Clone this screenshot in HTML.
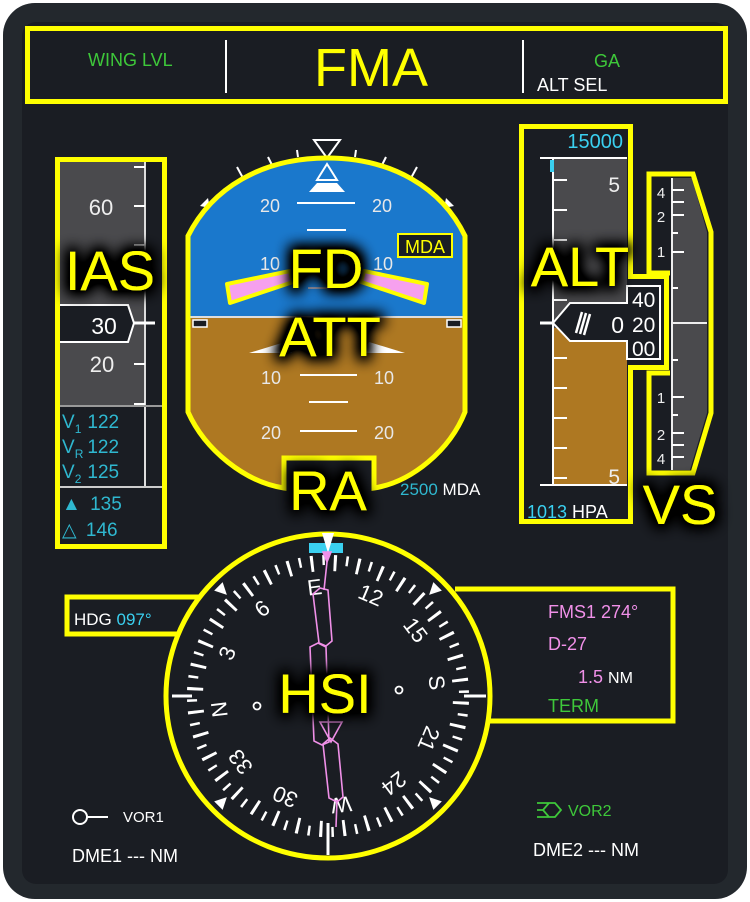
<!DOCTYPE html>
<html><head><meta charset="utf-8"><style>html,body{margin:0;padding:0;background:#fff}svg{display:block}</style></head>
<body>
<svg width="750" height="902" viewBox="0 0 750 902" xmlns="http://www.w3.org/2000/svg" font-family="Liberation Sans, DejaVu Sans, sans-serif">
<defs>
<filter id="g" x="-40%" y="-40%" width="180%" height="180%">
<feMorphology in="SourceAlpha" operator="dilate" radius="4" result="d"/>
<feGaussianBlur in="d" stdDeviation="7"/>
<feComponentTransfer><feFuncA type="linear" slope="1.6"/></feComponentTransfer>
<feMerge><feMergeNode/><feMergeNode in="SourceGraphic"/></feMerge>
</filter>
<clipPath id="adi"><path d="M188,236 C212,188 262,158 327,158 C392,158 442,188 465,236 L465,412 C450,450 412,482 374,490 L284,490 C245,482 205,450 188,412 Z"/></clipPath>
</defs>
<rect x="3" y="3" width="744" height="896" rx="32" fill="#23282d"/>
<rect x="22" y="22" width="706" height="862" rx="14" fill="#1a1d23"/>

<!-- FMA -->
<rect x="27.5" y="28.5" width="698" height="73" fill="none" stroke="#ffff00" stroke-width="5"/>
<line x1="226" y1="40" x2="226" y2="93" stroke="#fff" stroke-width="2"/>
<line x1="523" y1="40" x2="523" y2="93" stroke="#fff" stroke-width="2"/>
<text x="88" y="66" font-size="18" fill="#3ec83a">WING LVL</text>
<text x="371" y="86" font-size="54" fill="#ffff00" text-anchor="middle">FMA</text>
<text x="607" y="67" font-size="18" fill="#3ec83a" text-anchor="middle">GA</text>
<text x="537" y="91" font-size="18" fill="#fff">ALT SEL</text>

<!-- IAS -->
<rect x="58" y="162" width="87" height="243" fill="#4a4a4d"/>
<line x1="145" y1="162" x2="145" y2="487" stroke="#ddd" stroke-width="2"/>
<g stroke="#fff" stroke-width="2">
<line x1="134" y1="167" x2="145" y2="167"/><line x1="134" y1="206" x2="145" y2="206"/>
<line x1="134" y1="245" x2="145" y2="245"/><line x1="134" y1="285" x2="145" y2="285"/>
<line x1="134" y1="364" x2="145" y2="364"/><line x1="134" y1="404" x2="145" y2="404"/>
<line x1="58" y1="406" x2="166" y2="406" stroke="#999"/>
<line x1="58" y1="487" x2="166" y2="487" stroke="#ccc"/>
</g>
<text x="101" y="215" font-size="22" fill="#eee" text-anchor="middle">60</text>
<text x="102" y="372" font-size="22" fill="#eee" text-anchor="middle">20</text>
<polygon points="58,305 128,305 134,323 128,342 58,342" fill="#1a1d23" stroke="#fff" stroke-width="2"/>
<line x1="134" y1="323" x2="155" y2="323" stroke="#fff" stroke-width="3"/>
<text x="104" y="334" font-size="23" fill="#fff" text-anchor="middle">30</text>
<g fill="#2fb8d0" font-size="19">
<text x="62" y="428">V<tspan font-size="12" dy="5">1</tspan><tspan dy="-5" dx="6">122</tspan></text>
<text x="62" y="453">V<tspan font-size="12" dy="5">R</tspan><tspan dy="-5" dx="4">122</tspan></text>
<text x="62" y="478">V<tspan font-size="12" dy="5">2</tspan><tspan dy="-5" dx="6">125</tspan></text>
<text x="62" y="510">▲ <tspan dx="4">135</tspan></text>
<text x="62" y="536">△ <tspan dx="4">146</tspan></text>
</g>
<rect x="57.5" y="159.5" width="107" height="387" fill="none" stroke="#ffff00" stroke-width="5"/>

<!-- ADI -->
<g stroke="#fff" stroke-width="2">
<line x1="237" y1="167" x2="243" y2="178"/><line x1="268" y1="157" x2="272" y2="165"/>
<line x1="297" y1="150" x2="298" y2="157"/><line x1="356" y1="150" x2="355" y2="157"/>
<line x1="386" y1="157" x2="382" y2="165"/><line x1="417" y1="167" x2="411" y2="178"/>
</g>
<polygon points="314,140 340,140 327,158" fill="none" stroke="#fff" stroke-width="2"/>
<polygon points="200,206 208,198 210,208" fill="#fff"/><polygon points="454,206 446,198 444,208" fill="#fff"/>
<g clip-path="url(#adi)">
<rect x="180" y="150" width="300" height="168" fill="#1a78cc"/>
<rect x="180" y="318" width="300" height="190" fill="#ae7822"/>
<line x1="180" y1="317" x2="480" y2="317" stroke="#ddd" stroke-width="2"/>
</g>
<polygon points="327,164 317,180 337,180" fill="none" stroke="#fff" stroke-width="2"/>
<polygon points="317,183 337,183 345,192 309,192" fill="#fff"/>
<g stroke="#fff" stroke-width="2">
<line x1="297" y1="203" x2="355" y2="203"/><line x1="307" y1="230" x2="346" y2="230"/>
<line x1="308" y1="288" x2="346" y2="288" stroke="#99a"/>
<line x1="300" y1="375" x2="357" y2="375"/><line x1="309" y1="402" x2="348" y2="402"/>
<line x1="300" y1="431" x2="357" y2="431"/>
</g>
<g fill="#e8e8e8" font-size="18" text-anchor="middle">
<text x="270" y="212">20</text><text x="382" y="212">20</text>
<text x="270" y="270">10</text><text x="383" y="270">10</text>
<text x="271" y="384">10</text><text x="384" y="384">10</text>
<text x="271" y="439">20</text><text x="384" y="439">20</text>
</g>
<rect x="193" y="320" width="14" height="7" fill="#1a1d23" stroke="#fff" stroke-width="1.5"/>
<rect x="447" y="320" width="14" height="7" fill="#1a1d23" stroke="#fff" stroke-width="1.5"/>
<polygon points="249,353 285,342 292,353" fill="#fff"/><polygon points="405,353 369,342 362,353" fill="#fff"/>
<polygon points="227,284 290,271 293,282 230,303" fill="#f6a0ee" stroke="#ffff00" stroke-width="4" stroke-linejoin="round"/>
<polygon points="427,284 364,271 361,282 424,303" fill="#f6a0ee" stroke="#ffff00" stroke-width="4" stroke-linejoin="round"/>
<rect x="398" y="234" width="54" height="23" fill="#1a1d23" stroke="#ffff00" stroke-width="2"/>
<text x="425" y="253" font-size="18" fill="#ffff00" text-anchor="middle">MDA</text>
<rect x="284" y="458" width="90" height="36" fill="#1a1d23"/>
<path d="M188,236 C212,188 262,158 327,158 C392,158 442,188 465,236 L465,412 C450,450 412,482 374,488 L374,458 L284,458 L284,488 C245,482 205,450 188,412 Z" fill="none" stroke="#ffff00" stroke-width="5"/>
<text x="400" y="495" font-size="17" fill="#2fb8d0">2500 <tspan fill="#fff">MDA</tspan></text>

<!-- ALT -->
<rect x="553" y="158" width="74" height="170" fill="#4a4a4d"/>
<rect x="553" y="328" width="74" height="157" fill="#ae7822"/>
<line x1="540" y1="158" x2="627" y2="158" stroke="#fff" stroke-width="2"/>
<line x1="540" y1="485" x2="627" y2="485" stroke="#fff" stroke-width="2"/>
<line x1="553" y1="158" x2="553" y2="485" stroke="#fff" stroke-width="2"/>
<rect x="550" y="160" width="4" height="12" fill="#3ad0f0"/>
<g stroke="#fff" stroke-width="2">
<line x1="553" y1="180" x2="567" y2="180"/><line x1="553" y1="210" x2="567" y2="210"/>
<line x1="553" y1="240" x2="567" y2="240"/><line x1="553" y1="270" x2="567" y2="270"/>
<line x1="553" y1="300" x2="567" y2="300"/><line x1="540" y1="323" x2="553" y2="323" stroke-width="3"/>
<line x1="553" y1="358" x2="567" y2="358"/><line x1="553" y1="388" x2="567" y2="388"/>
<line x1="553" y1="418" x2="567" y2="418"/><line x1="553" y1="448" x2="567" y2="448"/>
<line x1="553" y1="478" x2="567" y2="478"/>
</g>
<text x="620" y="192" font-size="21" fill="#eee" text-anchor="end">5</text>
<text x="620" y="484" font-size="21" fill="#eee" text-anchor="end">5</text>
<text x="623" y="148" font-size="20" fill="#3ad0f0" text-anchor="end">15000</text>
<rect x="628" y="279" width="37" height="86" fill="#1a1d23"/>
<path d="M521.5,126.5 L630.5,126.5 L630.5,276.5 L666.5,276.5 L666.5,367.5 L630.5,367.5 L630.5,521.5 L521.5,521.5 Z" fill="none" stroke="#ffff00" stroke-width="5"/>
<polygon points="553,323 570,303 627,303 627,286 660,286 660,359 627,359 627,341 570,341" fill="#1a1d23" stroke="#fff" stroke-width="2"/>
<g stroke="#fff" stroke-width="2.5"><line x1="576" y1="333" x2="582" y2="312"/><line x1="580" y1="334" x2="586" y2="313"/><line x1="584" y1="335" x2="590" y2="314"/></g>
<text x="624" y="333" font-size="23" fill="#fff" text-anchor="end">0</text>
<g font-size="21" fill="#fff"><text x="632" y="307">40</text><text x="632" y="332">20</text><text x="632" y="356">00</text></g>
<text x="527" y="518" font-size="18" fill="#3ad0f0">1013 <tspan fill="#fff">HPA</tspan></text>

<!-- VS -->
<polygon points="672,178 692,178 707,232 707,413 690,470 672,470" fill="#4a4a4d"/>
<line x1="672" y1="178" x2="672" y2="470" stroke="#eee" stroke-width="2"/>
<line x1="672" y1="323" x2="707" y2="323" stroke="#eee" stroke-width="2"/>
<g stroke="#fff" stroke-width="2">
<line x1="672" y1="190" x2="684" y2="190"/><line x1="672" y1="202" x2="684" y2="202"/>
<line x1="672" y1="215" x2="684" y2="215"/><line x1="672" y1="233" x2="678" y2="233"/>
<line x1="672" y1="252" x2="684" y2="252"/><line x1="672" y1="288" x2="678" y2="288"/>
<line x1="672" y1="360" x2="678" y2="360"/><line x1="672" y1="397" x2="684" y2="397"/>
<line x1="672" y1="415" x2="678" y2="415"/><line x1="672" y1="433" x2="684" y2="433"/>
<line x1="672" y1="445" x2="684" y2="445"/><line x1="672" y1="457" x2="684" y2="457"/>
</g>
<g font-size="15" fill="#eee" text-anchor="middle">
<text x="661" y="198">4</text><text x="661" y="222">2</text><text x="661" y="257">1</text>
<text x="661" y="403">1</text><text x="661" y="440">2</text><text x="661" y="464">4</text>
</g>
<path d="M670,273 L649,273 L649,174 L693,174 L711,232 L711,413 L693,473 L649,473 L649,373 L670,373" fill="none" stroke="#ffff00" stroke-width="5" stroke-linejoin="miter"/>

<!-- HSI -->
<path d="M199,597 L67,597 L67,634 L191,634" fill="none" stroke="#ffff00" stroke-width="5"/>
<path d="M455,589 L673,589 L673,721 L488,721" fill="none" stroke="#ffff00" stroke-width="5"/>
<circle cx="328" cy="696" r="162" fill="#1a1d23"/>
<rect x="70" y="600" width="130" height="31" fill="#1a1d23"/>
<rect x="450" y="592" width="220" height="126" fill="#1a1d23"/>
<circle cx="328" cy="696" r="162" fill="none" stroke="#ffff00" stroke-width="5"/>
<circle cx="328" cy="696" r="136" fill="none" stroke="#fff" stroke-width="10" stroke-dasharray="2.5 9.369" stroke-dashoffset="-5.871"/>
<circle cx="328" cy="696" r="133" fill="none" stroke="#fff" stroke-width="16" stroke-dasharray="3 20.213" stroke-dashoffset="-5.464"/>
<g font-size="22" fill="#fff" text-anchor="middle">
<text x="328" y="594" transform="rotate(-7 328 696)">E</text>
<text x="328" y="594" transform="rotate(23 328 696)">12</text>
<text x="328" y="594" transform="rotate(53 328 696)">15</text>
<text x="328" y="594" transform="rotate(83 328 696)">S</text>
<text x="328" y="594" transform="rotate(113 328 696)">21</text>
<text x="328" y="594" transform="rotate(143 328 696)">24</text>
<text x="328" y="594" transform="rotate(173 328 696)">W</text>
<text x="328" y="594" transform="rotate(203 328 696)">30</text>
<text x="328" y="594" transform="rotate(233 328 696)">33</text>
<text x="328" y="594" transform="rotate(263 328 696)">N</text>
<text x="328" y="594" transform="rotate(293 328 696)">3</text>
<text x="328" y="594" transform="rotate(323 328 696)">6</text>
</g>
<g fill="#fff">
<polygon points="322,541 334,541 328,553" transform="rotate(45 328 696)"/>
<polygon points="322,541 334,541 328,553" transform="rotate(135 328 696)"/>
<polygon points="322,541 334,541 328,553" transform="rotate(225 328 696)"/>
<polygon points="322,541 334,541 328,553" transform="rotate(315 328 696)"/>
</g>
<g stroke="#fff" stroke-width="3">
<line x1="172" y1="696" x2="192" y2="696"/><line x1="464" y1="696" x2="486" y2="696"/>
<line x1="328" y1="823" x2="328" y2="855"/>
</g>
<rect x="309" y="543" width="34" height="10" fill="#3ad0f0"/>
<polygon points="322,533 334,533 328,553" fill="#fff"/>
<g fill="none" stroke="#f090e8" stroke-width="1.6">
<polygon points="323,552 331,552 327,562" fill="#f090e8"/>
<line x1="327" y1="562" x2="324" y2="590"/>
<polygon points="313,594 320,588 328,590 332,641 326,646 319,643"/>
<polygon points="310,647 318,643 326,647 329,742 322,745 314,741"/>
<polygon points="323,744 330,738 338,744 343,797 337,802 329,798"/>
<polygon points="320,722 342,722 331,742"/>
<line x1="337" y1="800" x2="336" y2="827"/>
</g>
<g fill="none" stroke="#fff" stroke-width="1.8">
<circle cx="257" cy="706" r="3.5"/><circle cx="399" cy="690" r="3.5"/><circle cx="361" cy="688" r="3"/>
</g>
<text x="74" y="625" font-size="17" fill="#fff">HDG <tspan fill="#3ad0f0">097°</tspan></text>
<g font-size="18" fill="#f090e8">
<text x="548" y="618">FMS1 274°</text><text x="548" y="650">D-27</text>
<text x="578" y="683">1.5 <tspan fill="#fff" font-size="16">NM</tspan></text>
</g>
<text x="548" y="712" font-size="18" fill="#3ec83a">TERM</text>
<circle cx="80" cy="817" r="7" fill="none" stroke="#fff" stroke-width="2"/>
<line x1="87" y1="817" x2="108" y2="817" stroke="#fff" stroke-width="2"/>
<text x="123" y="822" font-size="15" fill="#fff">VOR1</text>
<text x="72" y="862" font-size="18" fill="#fff">DME1 --- NM</text>
<path d="M537,803 L555,803 L561,810 L555,817 L537,817 M549,803 L543,810 L549,817 M537,810 L543,810" fill="none" stroke="#3ec83a" stroke-width="1.8"/>
<text x="568" y="816" font-size="16" fill="#3ec83a">VOR2</text>
<text x="533" y="856" font-size="18" fill="#fff">DME2 --- NM</text>

<!-- big labels -->
<g font-size="56" fill="#ffff00" text-anchor="middle" filter="url(#g)">
<text x="110" y="290">IAS</text>
<text x="326" y="288">FD</text>
<text x="330" y="356">ATT</text>
<text x="328" y="510">RA</text>
<text x="580" y="286">ALT</text>
<text x="680" y="524">VS</text>
<text x="325" y="713">HSI</text>
</g>
</svg>
</body></html>
